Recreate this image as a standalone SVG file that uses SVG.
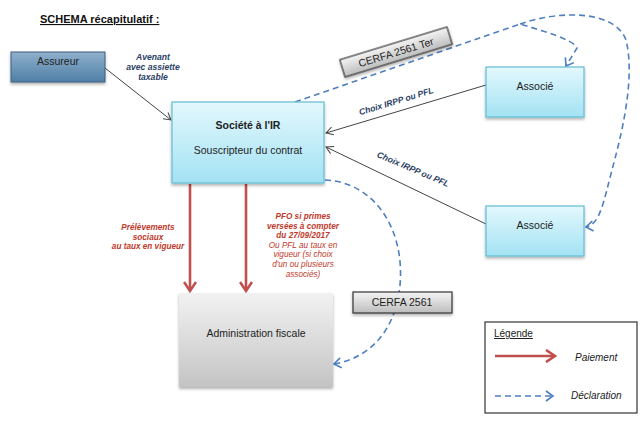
<svg xmlns="http://www.w3.org/2000/svg" width="640" height="424" viewBox="0 0 640 424">
<defs>
<linearGradient id="gCyan" x1="0" y1="0" x2="0" y2="1"><stop offset="0" stop-color="#e3f8fd"/><stop offset="1" stop-color="#a3e2f3"/></linearGradient>
<linearGradient id="gBlue" x1="0" y1="0" x2="0" y2="1"><stop offset="0" stop-color="#8fb0cc"/><stop offset="1" stop-color="#4f7fa6"/></linearGradient>
<linearGradient id="gGray" x1="0" y1="0" x2="0" y2="1"><stop offset="0" stop-color="#f2f2f2"/><stop offset="1" stop-color="#c4c4c4"/></linearGradient>
<linearGradient id="gLbl" x1="0" y1="0" x2="0" y2="1"><stop offset="0" stop-color="#f4f4f4"/><stop offset="1" stop-color="#bdbdbd"/></linearGradient>
<filter id="sh" x="-10%" y="-10%" width="130%" height="140%"><feDropShadow dx="0" dy="2" stdDeviation="1.5" flood-color="#000" flood-opacity="0.3"/></filter>
<marker id="aGray" markerWidth="10" markerHeight="10" refX="8" refY="5" orient="auto" markerUnits="userSpaceOnUse"><path d="M1,1 L8,5 L1,9" fill="none" stroke="#444" stroke-width="1"/></marker>
<marker id="aRed" markerWidth="14" markerHeight="14" refX="11" refY="7" orient="auto" markerUnits="userSpaceOnUse"><path d="M2,1 L11,7 L2,13" fill="none" stroke="#c0504d" stroke-width="2.6"/></marker>
<marker id="aBlue" markerWidth="12" markerHeight="12" refX="9" refY="6" orient="auto" markerUnits="userSpaceOnUse"><path d="M2,1 L9,6 L2,11" fill="none" stroke="#4f7fc0" stroke-width="1.6"/></marker>
</defs>
<style>
text{font-family:"Liberation Sans",Arial,sans-serif;}
.nt{font-size:10.5px;fill:#222;text-anchor:middle;}
.lb{font-size:8.6px;font-weight:bold;font-style:italic;fill:#2b3f66;text-anchor:middle;}
.rd{font-size:8.2px;font-style:italic;fill:#c0392b;text-anchor:middle;}
.rb{font-weight:bold;}
.gl{stroke:#444;stroke-width:1;fill:none;}
.rl{stroke:#c0504d;stroke-width:2.6;fill:none;}
.bl{stroke:#4f7fc0;stroke-width:1.6;fill:none;stroke-dasharray:6 4;}
</style>
<rect width="640" height="424" fill="#fff"/>
<text x="40" y="23" font-size="11" font-weight="bold" fill="#111" text-decoration="underline">SCHEMA récapitulatif :</text>

<g id="connectors">
<line class="gl" x1="105" y1="68" x2="171" y2="120" marker-end="url(#aGray)"/>
<line class="gl" x1="486" y1="85" x2="326" y2="133" marker-end="url(#aGray)"/>
<line class="gl" x1="486" y1="224" x2="326" y2="147" marker-end="url(#aGray)"/>
<line class="rl" x1="190" y1="184" x2="190" y2="291" marker-end="url(#aRed)"/>
<line class="rl" x1="246" y1="184" x2="246" y2="291" marker-end="url(#aRed)"/>
<path class="bl" d="M295,102 L520,24 C540,30 575,40 577,48 L566,66" marker-end="url(#aBlue)"/>
<path class="bl" d="M520,24 C560,10 615,10 626,40 C636,80 620,140 612,170 C604,200 600,225 586,227" marker-end="url(#aBlue)"/>
<path class="bl" d="M325,180 C375,182 405,230 400,285 C396,330 370,358 334,364" marker-end="url(#aBlue)"/>
</g>

<text class="lb"><tspan x="153" y="60">Avenant</tspan><tspan x="153" y="70">avec assiette</tspan><tspan x="153" y="80">taxable</tspan></text>
<text class="lb" transform="translate(397,104) rotate(-17)">Choix IRPP ou PFL</text>
<text class="lb" transform="translate(412,172) rotate(23)">Choix IRPP ou PFL</text>
<text class="rd rb"><tspan x="148" y="230">Prélèvements</tspan><tspan x="148" y="239.6">sociaux</tspan><tspan x="148" y="249.2">au taux en vigueur</tspan></text>
<text class="rd"><tspan class="rb" x="303" y="219">PFO si primes</tspan><tspan class="rb" x="303" y="228.6">versées à compter</tspan><tspan class="rb" x="303" y="238.2">du 27/09/2017</tspan><tspan x="303" y="247.8">Ou PFL au taux en</tspan><tspan x="303" y="257.4">vigueur (si choix</tspan><tspan x="303" y="267">d'un ou plusieurs</tspan><tspan x="303" y="276.6">associés)</tspan></text>

<g id="assureur"><rect x="11" y="52" width="94" height="30" fill="url(#gBlue)" stroke="#3d5f80" stroke-width="1" filter="url(#sh)"/><text class="nt" x="58" y="65">Assureur</text></g>
<g id="societe"><rect x="172" y="102" width="152" height="81" fill="url(#gCyan)" stroke="#62bcd6" stroke-width="1.2" filter="url(#sh)"/><text class="nt" x="248" y="129" font-weight="bold">Société à l'IR</text><text class="nt" x="248" y="154">Souscripteur du contrat</text></g>
<g id="associe1"><rect x="486" y="67" width="98" height="50" fill="url(#gCyan)" stroke="#62bcd6" stroke-width="1.2" filter="url(#sh)"/><text class="nt" x="535" y="90">Associé</text></g>
<g id="associe2"><rect x="486" y="206" width="98" height="50" fill="url(#gCyan)" stroke="#62bcd6" stroke-width="1.2" filter="url(#sh)"/><text class="nt" x="535" y="229">Associé</text></g>
<g id="admin"><rect x="179" y="293" width="154" height="94" fill="url(#gGray)" filter="url(#sh)"/><text class="nt" x="256" y="337">Administration fiscale</text></g>
<g id="cerfa-ter"><g transform="translate(396,52) rotate(-17)"><rect x="-56" y="-9" width="112" height="18" fill="url(#gLbl)" stroke="#333" stroke-width="1.2" filter="url(#sh)"/><text class="nt" x="0" y="4">CERFA 2561 Ter</text></g></g>
<g id="cerfa"><rect x="353" y="292" width="99" height="21" fill="url(#gLbl)" stroke="#333" stroke-width="1.2" filter="url(#sh)"/><text class="nt" x="402" y="306">CERFA 2561</text></g>

<g id="legende">
<rect x="485" y="322" width="152" height="91" fill="#fff" stroke="#333" stroke-width="1.2"/>
<text x="494" y="337" font-size="10" fill="#222" text-decoration="underline">Légende</text>
<line class="rl" x1="495" y1="356" x2="555" y2="356" marker-end="url(#aRed)"/>
<text x="575" y="361" font-size="10" font-style="italic" fill="#222">Paiement</text>
<line class="bl" x1="495" y1="396" x2="553" y2="396" stroke-dasharray="5 4" marker-end="url(#aBlue)"/>
<text x="571" y="399" font-size="10" font-style="italic" fill="#222">Déclaration</text>
</g>
</svg>
